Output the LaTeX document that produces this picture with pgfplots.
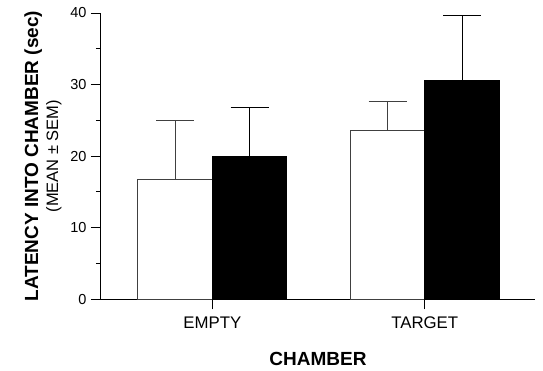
\documentclass[border=0pt]{standalone}
\usepackage{fontspec}
\setmainfont{Liberation Sans}
\usepackage{pgfplots}
\pgfplotsset{compat=1.18}
\begin{document}
\begin{tikzpicture}
\path[use as bounding box] (-101pt,-70.7pt) rectangle (442pt,299.3pt);
\begin{axis}[
  at={(0,0)}, anchor=south west,
  scale only axis,
  width=434pt, height=286.3pt,
  xmin=-0.524, xmax=1.519,
  ymin=0, ymax=40,
  axis lines=left,
  axis line style={-, line width=1pt, black},
  ybar=0pt, bar width=74.5pt,
  xtick={0,1}, xticklabels={EMPTY,TARGET},
  ytick={0,10,20,30,40},
  minor y tick num=1,
  tick align=outside,
  major tick length=10pt,
  minor tick length=5pt,
  tick style={line width=1pt, black},
  /pgf/number format/assume math mode=true,
  yticklabel style={font=\fontsize{14.5}{17}\selectfont, xshift=-1pt},
  xticklabel style={font=\fontsize{16.8}{20}\selectfont, yshift=-4pt},
  xlabel={\textbf{CHAMBER}},
  xlabel style={font=\fontsize{19}{22}\selectfont, at={(axis description cs:0.5,-0.2295)}, anchor=base},
  ylabel={{\fontsize{19}{22}\selectfont\bfseries LATENCY INTO CHAMBER (sec)}\\[3pt]{\fontsize{16.5}{19}\selectfont (MEAN ± SEM)}},
  ylabel style={align=center, at={(axis description cs:-0.1336,0.5)}, anchor=center, rotate=0},
  error bars/y dir=plus,
  error bars/y explicit,
]
\addplot[fill=white, draw=black!75, line width=1pt,
  error bars/error bar style={line width=1pt, black!75},
  error bars/error mark options={rotate=90, mark size=19pt, line width=1pt, black!75}]
  coordinates {(0,16.7) +- (0,8.3) (1,23.6) +- (0,4.0)};
\addplot[fill=black, draw=black, line width=1pt,
  error bars/error bar style={line width=1pt, black},
  error bars/error mark options={rotate=90, mark size=19pt, line width=1pt, black}]
  coordinates {(0,20.0) +- (0,6.8) (1,30.5) +- (0,9.1)};
\end{axis}
\end{tikzpicture}
\end{document}
